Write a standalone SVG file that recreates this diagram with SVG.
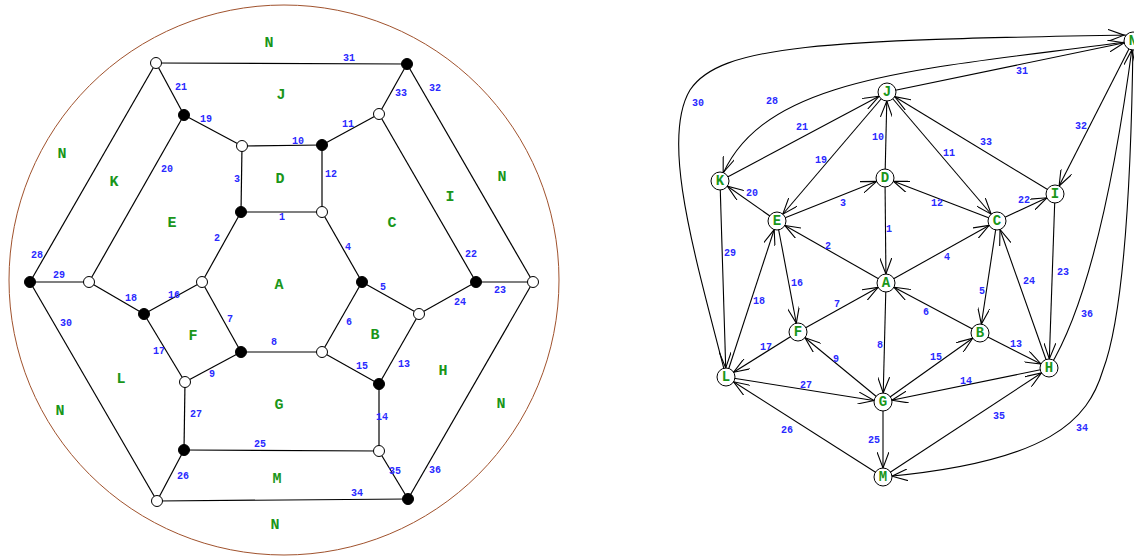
<svg xmlns="http://www.w3.org/2000/svg" width="1134" height="556" viewBox="0 0 1134 556">
<style>
.e{stroke:#000;stroke-width:1.2;fill:none}
.a{stroke:#000;stroke-width:1.1;fill:none;marker-end:url(#ar)}
.vw{fill:#fff;stroke:#000;stroke-width:1}
.vb{fill:#000;stroke:#000;stroke-width:1}
.nd{fill:#fff;stroke:#000;stroke-width:1}
.n{font-family:"Liberation Mono",monospace;font-weight:bold;font-size:10px;fill:#2a2aff;text-anchor:middle;dominant-baseline:central}
.f{font-family:"Liberation Mono",monospace;font-weight:bold;font-size:15px;fill:#1a961a;text-anchor:middle;dominant-baseline:central}
.t{font-family:"Liberation Mono",monospace;font-weight:bold;font-size:14px;fill:#1a961a;text-anchor:middle;dominant-baseline:central}
</style>
<defs>
<marker id="ar" markerUnits="userSpaceOnUse" viewBox="0 0 26 12" refX="25" refY="6" markerWidth="26" markerHeight="12" orient="auto">
<path d="M0,0 L16,6 L0,12" fill="none" stroke="#000" stroke-width="1.1"/>
</marker>
</defs>
<rect width="1134" height="556" fill="#fff"/>

<!-- LEFT: planar graph -->
<circle id="boundary" cx="284" cy="280" r="275" fill="none" stroke="#a0522d" stroke-width="1"/>
<g id="left-edges">
<line class="e" x1="241" y1="212" x2="322" y2="212"/>
<line class="e" x1="241" y1="212" x2="202" y2="282"/>
<line class="e" x1="241" y1="212" x2="242" y2="146"/>
<line class="e" x1="322" y1="212" x2="362" y2="282"/>
<line class="e" x1="362" y1="282" x2="419" y2="314"/>
<line class="e" x1="362" y1="282" x2="322" y2="352"/>
<line class="e" x1="241" y1="352" x2="202" y2="282"/>
<line class="e" x1="322" y1="352" x2="241" y2="352"/>
<line class="e" x1="241" y1="352" x2="185" y2="382"/>
<line class="e" x1="242" y1="146" x2="322" y2="145"/>
<line class="e" x1="322" y1="145" x2="379" y2="114"/>
<line class="e" x1="322" y1="145" x2="322" y2="212"/>
<line class="e" x1="419" y1="314" x2="379" y2="384"/>
<line class="e" x1="379" y1="384" x2="379" y2="451"/>
<line class="e" x1="322" y1="352" x2="379" y2="384"/>
<line class="e" x1="202" y1="282" x2="144" y2="314"/>
<line class="e" x1="144" y1="314" x2="185" y2="382"/>
<line class="e" x1="144" y1="314" x2="89" y2="282"/>
<line class="e" x1="184" y1="115" x2="242" y2="146"/>
<line class="e" x1="184" y1="115" x2="89" y2="282"/>
<line class="e" x1="156" y1="63" x2="184" y2="115"/>
<line class="e" x1="379" y1="114" x2="476" y2="282"/>
<line class="e" x1="476" y1="282" x2="533" y2="282"/>
<line class="e" x1="476" y1="282" x2="419" y2="314"/>
<line class="e" x1="379" y1="451" x2="184" y2="450"/>
<line class="e" x1="184" y1="450" x2="157" y2="501"/>
<line class="e" x1="184" y1="450" x2="185" y2="382"/>
<line class="e" x1="156" y1="63" x2="30" y2="282"/>
<line class="e" x1="30" y1="282" x2="89" y2="282"/>
<line class="e" x1="30" y1="282" x2="157" y2="501"/>
<line class="e" x1="156" y1="63" x2="407" y2="64"/>
<line class="e" x1="407" y1="64" x2="533" y2="282"/>
<line class="e" x1="407" y1="64" x2="379" y2="114"/>
<line class="e" x1="157" y1="501" x2="408" y2="499"/>
<line class="e" x1="379" y1="451" x2="408" y2="499"/>
<line class="e" x1="533" y1="282" x2="408" y2="499"/>
</g>
<g id="left-vertices">
<circle id="v1" class="vw" cx="156" cy="63" r="5.5"/>
<circle id="v2" class="vb" cx="407" cy="64" r="5.5"/>
<circle id="v3" class="vw" cx="533" cy="282" r="5.5"/>
<circle id="v4" class="vb" cx="408" cy="499" r="5.5"/>
<circle id="v5" class="vw" cx="157" cy="501" r="5.5"/>
<circle id="v6" class="vb" cx="30" cy="282" r="5.5"/>
<circle id="v7" class="vb" cx="184" cy="115" r="5.5"/>
<circle id="v8" class="vw" cx="242" cy="146" r="5.5"/>
<circle id="v9" class="vb" cx="322" cy="145" r="5.5"/>
<circle id="v10" class="vw" cx="379" cy="114" r="5.5"/>
<circle id="v11" class="vb" cx="476" cy="282" r="5.5"/>
<circle id="v12" class="vw" cx="419" cy="314" r="5.5"/>
<circle id="v13" class="vb" cx="379" cy="384" r="5.5"/>
<circle id="v14" class="vw" cx="379" cy="451" r="5.5"/>
<circle id="v15" class="vb" cx="184" cy="450" r="5.5"/>
<circle id="v16" class="vw" cx="185" cy="382" r="5.5"/>
<circle id="v17" class="vb" cx="144" cy="314" r="5.5"/>
<circle id="v18" class="vw" cx="89" cy="282" r="5.5"/>
<circle id="v19" class="vb" cx="241" cy="212" r="5.5"/>
<circle id="v20" class="vw" cx="322" cy="212" r="5.5"/>
<circle id="v21" class="vb" cx="362" cy="282" r="5.5"/>
<circle id="v22" class="vw" cx="322" cy="352" r="5.5"/>
<circle id="v23" class="vb" cx="241" cy="352" r="5.5"/>
<circle id="v24" class="vw" cx="202" cy="282" r="5.5"/>
</g>
<g id="left-edge-labels">
<text class="n" x="282" y="217">1</text>
<text class="n" x="217" y="238">2</text>
<text class="n" x="237" y="179">3</text>
<text class="n" x="348" y="247">4</text>
<text class="n" x="383" y="287">5</text>
<text class="n" x="349" y="322">6</text>
<text class="n" x="230" y="319">7</text>
<text class="n" x="274" y="342">8</text>
<text class="n" x="212" y="374">9</text>
<text class="n" x="298" y="141">10</text>
<text class="n" x="348" y="124">11</text>
<text class="n" x="331" y="174">12</text>
<text class="n" x="404" y="364">13</text>
<text class="n" x="382" y="417">14</text>
<text class="n" x="362" y="366">15</text>
<text class="n" x="174" y="295">16</text>
<text class="n" x="159" y="351">17</text>
<text class="n" x="131" y="298">18</text>
<text class="n" x="206" y="119">19</text>
<text class="n" x="167" y="169">20</text>
<text class="n" x="181" y="87">21</text>
<text class="n" x="471" y="254">22</text>
<text class="n" x="500" y="290">23</text>
<text class="n" x="460" y="302">24</text>
<text class="n" x="260" y="444">25</text>
<text class="n" x="183" y="476">26</text>
<text class="n" x="196" y="414">27</text>
<text class="n" x="37" y="255">28</text>
<text class="n" x="59" y="275">29</text>
<text class="n" x="66" y="323">30</text>
<text class="n" x="349" y="58">31</text>
<text class="n" x="435" y="88">32</text>
<text class="n" x="401" y="93">33</text>
<text class="n" x="357" y="493">34</text>
<text class="n" x="395" y="471">35</text>
<text class="n" x="435" y="470">36</text>
</g>
<g id="left-faces">
<text class="f" x="269" y="43">N</text>
<text class="f" x="281" y="95">J</text>
<text class="f" x="62" y="154">N</text>
<text class="f" x="114" y="182">K</text>
<text class="f" x="172" y="223">E</text>
<text class="f" x="280" y="179">D</text>
<text class="f" x="502" y="177">N</text>
<text class="f" x="450" y="197">I</text>
<text class="f" x="392" y="223">C</text>
<text class="f" x="279" y="285">A</text>
<text class="f" x="193" y="336">F</text>
<text class="f" x="375" y="335">B</text>
<text class="f" x="121" y="379">L</text>
<text class="f" x="443" y="371">H</text>
<text class="f" x="279" y="405">G</text>
<text class="f" x="60" y="411">N</text>
<text class="f" x="501" y="404">N</text>
<text class="f" x="277" y="479">M</text>
<text class="f" x="275" y="525">N</text>
</g>

<!-- RIGHT: dual directed graph -->
<g id="connectors">
<line class="a" x1="885" y1="178" x2="886" y2="283"/>
<line class="a" x1="886" y1="283" x2="777" y2="221"/>
<line class="a" x1="777" y1="221" x2="885" y2="178"/>
<line class="a" x1="886" y1="283" x2="997" y2="221"/>
<line class="a" x1="997" y1="221" x2="980" y2="333"/>
<line class="a" x1="980" y1="333" x2="886" y2="283"/>
<line class="a" x1="798" y1="332" x2="886" y2="283"/>
<line class="a" x1="886" y1="283" x2="883" y2="402"/>
<line class="a" x1="883" y1="402" x2="798" y2="332"/>
<line class="a" x1="885" y1="178" x2="887" y2="92"/>
<line class="a" x1="887" y1="92" x2="997" y2="221"/>
<line class="a" x1="997" y1="221" x2="885" y2="178"/>
<line class="a" x1="980" y1="333" x2="1049" y2="368"/>
<line class="a" x1="1049" y1="368" x2="883" y2="402"/>
<line class="a" x1="883" y1="402" x2="980" y2="333"/>
<line class="a" x1="777" y1="221" x2="798" y2="332"/>
<line class="a" x1="798" y1="332" x2="726" y2="377"/>
<line class="a" x1="726" y1="377" x2="777" y2="221"/>
<line class="a" x1="887" y1="92" x2="777" y2="221"/>
<line class="a" x1="777" y1="221" x2="720" y2="181"/>
<line class="a" x1="720" y1="181" x2="887" y2="92"/>
<line class="a" x1="997" y1="221" x2="1055" y2="194"/>
<line class="a" x1="1055" y1="194" x2="1049" y2="368"/>
<line class="a" x1="1049" y1="368" x2="997" y2="221"/>
<line class="a" x1="883" y1="402" x2="883" y2="477"/>
<line class="a" x1="883" y1="477" x2="726" y2="377"/>
<line class="a" x1="726" y1="377" x2="883" y2="402"/>
<path class="a" d="M1133,41 C920,70 760,75 720,181"/>
<line class="a" x1="720" y1="181" x2="726" y2="377"/>
<path class="a" d="M726,377 C695,255 660,140 690,90 C720,45 820,40 1133,35"/>
<line class="a" x1="887" y1="92" x2="1133" y2="41"/>
<line class="a" x1="1133" y1="41" x2="1055" y2="194"/>
<line class="a" x1="1055" y1="194" x2="887" y2="92"/>
<path class="a" d="M1133,41 C1131,200 1122,320 1103,370 C1088,420 1050,462 883,477"/>
<line class="a" x1="883" y1="477" x2="1049" y2="368"/>
<path class="a" d="M1049,368 C1085,310 1112,200 1133,41"/>
</g>
<g id="node-A"><circle class="nd" cx="886" cy="283" r="9"/><text class="t" x="886" y="283">A</text></g>
<g id="node-B"><circle class="nd" cx="980" cy="333" r="9"/><text class="t" x="980" y="333">B</text></g>
<g id="node-C"><circle class="nd" cx="997" cy="221" r="9"/><text class="t" x="997" y="221">C</text></g>
<g id="node-D"><circle class="nd" cx="885" cy="178" r="9"/><text class="t" x="885" y="178">D</text></g>
<g id="node-E"><circle class="nd" cx="777" cy="221" r="9"/><text class="t" x="777" y="221">E</text></g>
<g id="node-F"><circle class="nd" cx="798" cy="332" r="9"/><text class="t" x="798" y="332">F</text></g>
<g id="node-G"><circle class="nd" cx="883" cy="402" r="9"/><text class="t" x="883" y="402">G</text></g>
<g id="node-H"><circle class="nd" cx="1049" cy="368" r="9"/><text class="t" x="1049" y="368">H</text></g>
<g id="node-I"><circle class="nd" cx="1055" cy="194" r="9"/><text class="t" x="1055" y="194">I</text></g>
<g id="node-J"><circle class="nd" cx="887" cy="92" r="9"/><text class="t" x="887" y="92">J</text></g>
<g id="node-K"><circle class="nd" cx="720" cy="181" r="9"/><text class="t" x="720" y="181">K</text></g>
<g id="node-L"><circle class="nd" cx="726" cy="377" r="9"/><text class="t" x="726" y="377">L</text></g>
<g id="node-M"><circle class="nd" cx="883" cy="477" r="9"/><text class="t" x="883" y="477">M</text></g>
<g id="node-N"><circle class="nd" cx="1133" cy="41" r="9"/><text class="t" x="1133" y="41">N</text></g>
<g id="connector-labels">
<text class="n" x="889" y="229">1</text>
<text class="n" x="828" y="246">2</text>
<text class="n" x="843" y="203">3</text>
<text class="n" x="947" y="257">4</text>
<text class="n" x="982" y="291">5</text>
<text class="n" x="926" y="312">6</text>
<text class="n" x="837" y="304">7</text>
<text class="n" x="880" y="345">8</text>
<text class="n" x="836" y="359">9</text>
<text class="n" x="878" y="137">10</text>
<text class="n" x="949" y="153">11</text>
<text class="n" x="937" y="203">12</text>
<text class="n" x="1016" y="344">13</text>
<text class="n" x="966" y="381">14</text>
<text class="n" x="936" y="357">15</text>
<text class="n" x="797" y="283">16</text>
<text class="n" x="766" y="347">17</text>
<text class="n" x="759" y="301">18</text>
<text class="n" x="821" y="160">19</text>
<text class="n" x="752" y="193">20</text>
<text class="n" x="802" y="127">21</text>
<text class="n" x="1024" y="200">22</text>
<text class="n" x="1063" y="272">23</text>
<text class="n" x="1029" y="281">24</text>
<text class="n" x="874" y="440">25</text>
<text class="n" x="787" y="430">26</text>
<text class="n" x="806" y="385">27</text>
<text class="n" x="772" y="101">28</text>
<text class="n" x="730" y="253">29</text>
<text class="n" x="698" y="103">30</text>
<text class="n" x="1022" y="71">31</text>
<text class="n" x="1081" y="126">32</text>
<text class="n" x="986" y="142">33</text>
<text class="n" x="1082" y="428">34</text>
<text class="n" x="999" y="416">35</text>
<text class="n" x="1087" y="314">36</text>
</g>
</svg>
